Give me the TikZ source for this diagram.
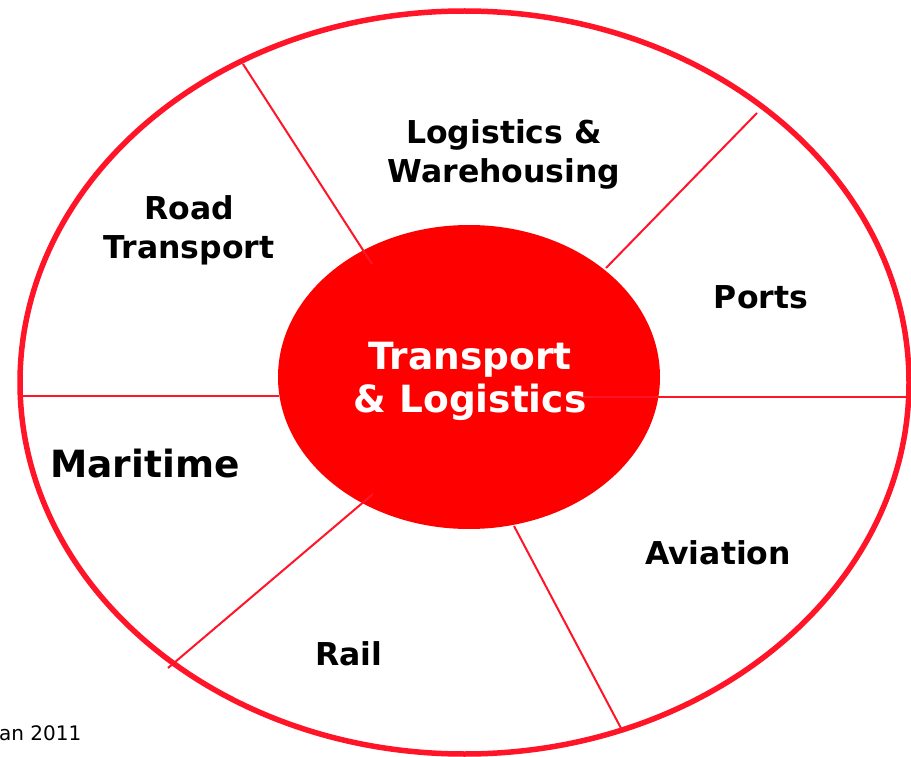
\documentclass[tikz,border=0pt]{standalone}
\usepackage{fontspec}
\setmainfont{DejaVu Sans}
\definecolor{rimred}{RGB}{255,20,40}
\definecolor{hubred}{RGB}{255,0,0}
\begin{document}
\begin{tikzpicture}[x=1pt,y=-1pt,
  rim/.style={draw=rimred,line width=5.5pt},
  spoke/.style={draw=rimred,line width=2pt},
  lbl/.style={font=\bfseries\fontsize{31.5}{39}\selectfont,align=center,text=black,inner sep=0pt},
  biglbl/.style={font=\bfseries\fontsize{37.5}{43}\selectfont,align=center,inner sep=0pt},
]
\useasboundingbox (0,0) rectangle (911,757);
\draw[rim] (464.5,382.5) ellipse [x radius=444.5, y radius=371.5];
\fill[hubred] (469,377) ellipse [x radius=191, y radius=152];
\coordinate (a1) at (243,64);   \coordinate (b1) at (372,264);
\coordinate (a2) at (757,113);  \coordinate (b2) at (606,268);
\coordinate (a3) at (168,668);  \coordinate (b3) at (373,494);
\coordinate (a4) at (623,732);  \coordinate (b4) at (514,526);
\coordinate (a5) at (21,396);   \coordinate (b5) at (279,396);
\coordinate (a6) at (908,397);  \coordinate (b6) at (577,397);
\draw[spoke] (a1) -- (b1);
\draw[spoke] (a2) -- (b2);
\draw[spoke] (a3) -- (b3);
\draw[spoke] (a4) -- (b4);
\draw[spoke] (a5) -- (b5);
\draw[spoke] (a6) -- (b6);
\node[lbl] (lw) at (504,154.5) {Logistics \&\\Warehousing};
\node[lbl] (rt) at (189,230.5) {Road\\Transport};
\node[lbl] (po) at (761,297.5) {Ports};
\node[biglbl,text=white] (tl) at (470,381.5) {Transport\\\& Logistics};
\node[biglbl,text=black] (ma) at (145,463.5) {Maritime};
\node[lbl] (av) at (718,552.5) {Aviation};
\node[lbl] (ra) at (349,654) {Rail};
\node[anchor=west,font=\fontsize{20}{24}\selectfont,inner sep=0pt] (src) at (-1,733) {an 2011};
\end{tikzpicture}
\end{document}
